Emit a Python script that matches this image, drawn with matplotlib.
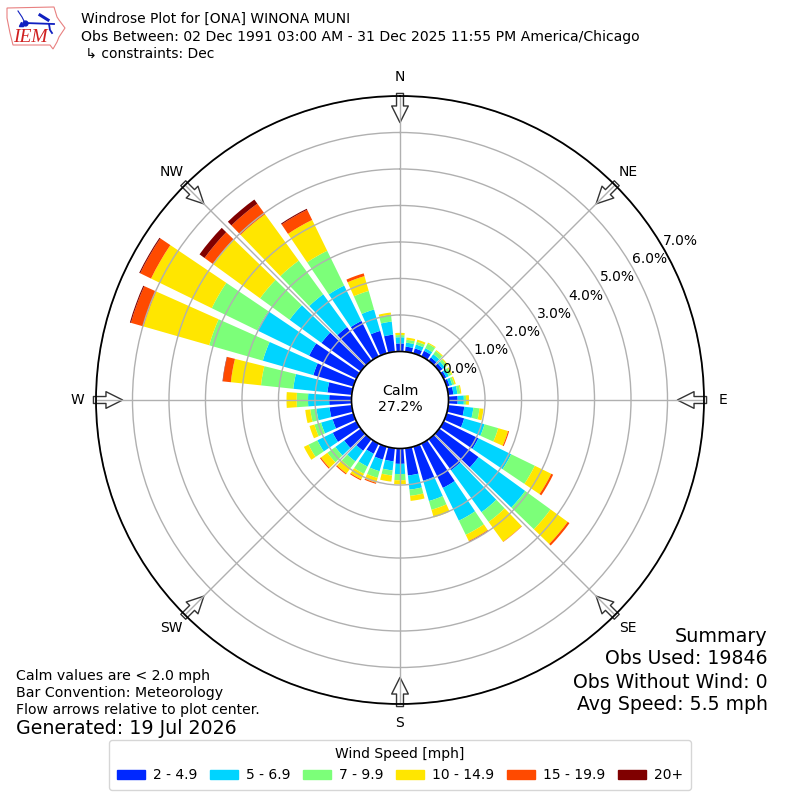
import numpy as np
import matplotlib
matplotlib.use('Agg')
import matplotlib.pyplot as plt
from matplotlib.patches import Polygon, Rectangle

# percent of obs per direction, index 0 = north, then every 10 deg clockwise
directions = np.arange(0, 360, 10)
speed_labels = ['2 - 4.9', '5 - 6.9', '7 - 9.9', '10 - 14.9', '15 - 19.9', '20+']
speed_colors = ['#0028ff', '#00d4ff', '#7cff79', '#ffe600', '#ff4a00', '#800000']

bin_2_5 = [.22, .14, .14, .17, .11, .11, .08, .08, .14, .25, .44, .50,
           1.06, 1.33, 1.05, 1.35, .97, .75, .42, .36, .37, .31, .39, .56,
           .72, .59, .61, .61, .67, 1.14, 1.44, 1.33, 1.14, 1.08, .64, .47]
bin_5_7 = [.17, .11, .11, .08, .11, .08, .08, .08, .11, .17, .25, .58,
           1.00, 1.58, 1.42, 1.00, .58, .39, .28, .25, .33, .39, .36, .30,
           .47, .33, .36, .58, .94, 1.44, 1.58, 1.08, 1.11, 1.08, .61, .36]
bin_7_10 = [.06, .08, .08, .14, .11, .08, .08, .06, .08, .06, .17, .39,
            .72, .86, .33, .43, .25, .17, .17, .14, .19, .22, .22, .27,
            .27, .19, .17, .31, .89, 1.53, 1.39, 1.00, 1.14, 1.06, .53, .19]
bin_10_15 = [.06, .06, .06, .03, .03, .03, .03, .04, .03, .08, .11, .28,
             .50, .58, .67, .19, .22, .14, .11, .17, .14, .17, .19, .22,
             .14, .14, .14, .28, .83, 1.87, 1.85, 1.60, 1.57, .94, .42, .06]
bin_15_20 = [0, 0, 0, 0, 0, 0, 0, 0, 0, 0, 0, .03,
             .06, .06, .01, .03, 0, 0, 0, 0, .03, .03, .03, .03,
             0, 0, 0, 0, .22, .36, .33, .28, .36, .31, .08, 0]
bin_20 = [0, 0, 0, 0, 0, 0, 0, 0, 0, 0, 0, 0,
          0, 0, 0, 0, 0, 0, 0, 0, 0, 0, 0, 0,
          0, 0, 0, 0, .01, .03, .03, .17, .14, .03, 0, 0]
all_bins = [bin_2_5, bin_5_7, bin_7_10, bin_10_15, bin_15_20, bin_20]

rings = [0, 1, 2, 3, 4, 5, 6, 7]
compass = ['N', 'NE', 'E', 'SE', 'S', 'SW', 'W', 'NW']
compass_deg = [0, 45, 90, 135, 180, 225, 270, 315]

fig = plt.figure(figsize=(8, 8), dpi=100)
ax = fig.add_axes([96 / 800, 96 / 800, 608 / 800, 608 / 800], projection='polar')
ax.set_theta_zero_location('N')
ax.set_theta_direction(-1)

theta = np.radians(directions)
bottom = np.zeros(len(directions))
for vals, color in zip(all_bins, speed_colors):
    ax.bar(theta, vals, width=np.radians(8), bottom=bottom, color=color, linewidth=0, zorder=1)
    bottom = bottom + np.array(vals)

ax.set_rorigin(-1.33)
ax.set_ylim(0, 7)
ax.set_axisbelow(False)
ax.set_rgrids(rings, ['%.1f%%' % r for r in rings], angle=60, fontsize=10)
ax.set_thetagrids(compass_deg, compass, fontsize=10)
ax.tick_params(axis='x', pad=3)
ax.grid(True, color='#b0b0b0', linewidth=1)
ax.spines['polar'].set_linewidth(1.3)
ax.spines['polar'].set_zorder(5)

# flow arrows on the rim
for deg in compass_deg:
    ax.annotate('', xy=(np.radians(deg), 6.27), xytext=(np.radians(deg), 7.07),
                annotation_clip=False, zorder=2,
                arrowprops=dict(facecolor='white', edgecolor='#333333', linewidth=1,
                                width=5, headwidth=12, headlength=12, shrink=0))

# calm hole
hole = plt.Circle((400 / 800, 400 / 800), 48.5 / 800, transform=fig.transFigure,
                  facecolor='white', edgecolor='black', linewidth=1.2, zorder=5)
fig.add_artist(hole)
fig.text(400 / 800, 1 - 399 / 800, 'Calm\n27.2%', ha='center', va='center', fontsize=10.15, zorder=6)

# header
fig.text(81 / 800, 1 - 19 / 800, 'Windrose Plot for [ONA] WINONA MUNI', fontsize=10, va='center')
fig.text(81 / 800, 1 - 37 / 800, 'Obs Between: 02 Dec 1991 03:00 AM - 31 Dec 2025 11:55 PM America/Chicago',
         fontsize=10.1, va='center')
fig.text(81 / 800, 1 - 54 / 800, ' \u21b3 constraints: Dec', fontsize=10, va='center')

# notes
fig.text(16 / 800, 1 - 676 / 800, 'Calm values are < 2.0 mph', fontsize=10.15, va='center')
fig.text(16 / 800, 1 - 693 / 800, 'Bar Convention: Meteorology', fontsize=10.2, va='center')
fig.text(16 / 800, 1 - 710 / 800, 'Flow arrows relative to plot center.', fontsize=10.1, va='center')
fig.text(16 / 800, 1 - 729 / 800, 'Generated: 19 Jul 2026', fontsize=13.7, va='center')

fig.text(768 / 800, 1 - 636 / 800, 'Summary', fontsize=13.8, ha='right', va='center')
fig.text(768 / 800, 1 - 659 / 800, 'Obs Used: 19846', fontsize=13.6, ha='right', va='center')
fig.text(768 / 800, 1 - 682 / 800, 'Obs Without Wind: 0', fontsize=13.6, ha='right', va='center')
fig.text(768 / 800, 1 - 705 / 800, 'Avg Speed: 5.5 mph', fontsize=13.6, ha='right', va='center')

# legend
handles = [Rectangle((0, 0), 1, 1, color=c) for c in speed_colors]
fig.legend(handles, speed_labels, ncol=6, title='Wind Speed [mph]', fontsize=10, title_fontsize=10,
           loc='lower center', bbox_to_anchor=(0.5, 10 / 800), bbox_transform=fig.transFigure,
           borderaxespad=0, borderpad=0.55, handlelength=2, handletextpad=0.6, columnspacing=0.9)

# IEM logo
logo = fig.add_axes([0, 1 - 55 / 800, 70 / 800, 55 / 800])
logo.set_xlim(0, 70)
logo.set_ylim(55, 0)
logo.axis('off')
outline = [(7, 8), (54, 7), (57, 17), (59, 20), (65, 28), (59, 37), (57, 42), (53, 49), (50, 45),
           (13, 45), (10, 33), (7, 18)]
logo.add_patch(Polygon(outline, closed=True, fill=False, edgecolor='#e88080', linewidth=0.8))
logo.plot([25, 54], [23, 24], color='#1020c0', linewidth=1.3)
logo.plot([25], [23], 'o', color='#1020c0', markersize=3.5)
logo.plot([18, 22, 25], [11, 17, 23], color='#1020c0', linewidth=0.8)
logo.plot([40, 48], [15, 20], color='#1020c0', linewidth=2.2)
logo.plot([49, 50, 52], [24, 30, 33], color='#1020c0', linewidth=1.3)
logo.plot([21], [24], '^', color='#1020c0', markersize=3)
logo.text(30, 38, 'IEM', color='#d02020', family='Liberation Serif', style='italic',
          fontsize=14, ha='center', va='center')

fig.savefig('out.png', dpi=100)
